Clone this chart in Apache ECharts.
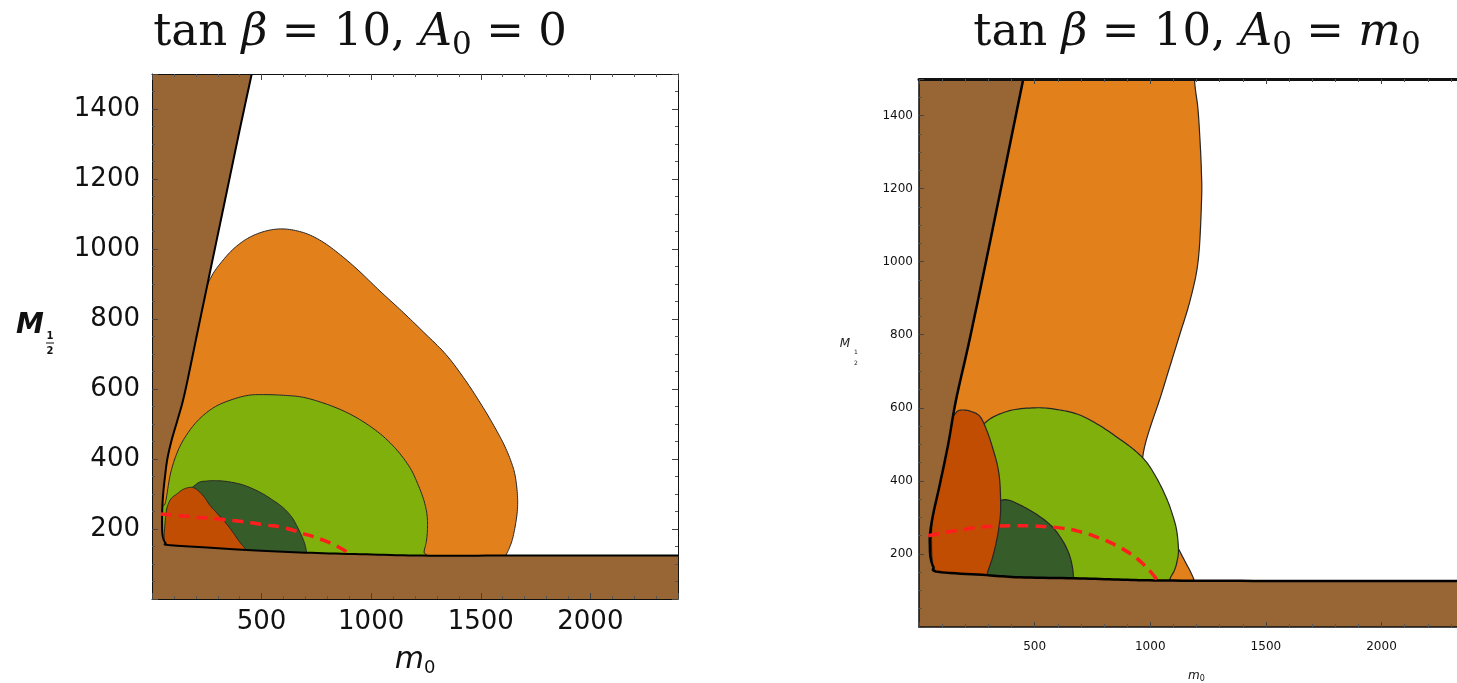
<!DOCTYPE html>
<html>
<head>
<meta charset="utf-8">
<title>tan beta = 10 planes</title>
<script src="https://cdn.jsdelivr.net/npm/echarts@6/dist/echarts.min.js"></script>
<style>
  html, body { margin: 0; padding: 0; background: #fff; }
  #chart { width: 1457px; height: 683px; }
</style>
</head>
<body>
<div id="chart"></div>
<script>
// ---- data (m0, M1/2) ----
const xTicks = [500, 1000, 1500, 2000];
const yTicks = [200, 400, 600, 800, 1000, 1200, 1400];

// left panel: tan beta = 10, A0 = 0
const leftBrown = [[0, 0], [0, 1500], [455, 1500], [400, 1340], [340, 1160], [277, 971], [210, 770], [150, 590],
  [118, 515], [91, 457], [70, 400], [58, 343], [51, 300], [47, 260], [46, 220], [47, 190], [52, 172], [62, 160],
  [75, 154], [250, 147], [432, 140], [675, 133], [950, 128], [1236, 124], [1600, 124], [2000, 124], [2400, 124],
  [2400, 0]];
const leftOrange = [[30, 100], [30, 500], [120, 600], [235, 860], [270, 920], [320, 965], [380, 1005], [450, 1035],
  [530, 1053], [610, 1057], [700, 1045], [780, 1020], [860, 983], [940, 940], [1040, 880], [1139, 823], [1240, 762],
  [1342, 698], [1430, 625], [1505, 553], [1560, 495], [1607, 440], [1640, 390], [1658, 349], [1668, 290],
  [1665, 240], [1648, 179], [1630, 145], [1607, 115], [1600, 100], [800, 95]];
const leftGreen = [[40, 100], [40, 250], [61, 275], [85, 360], [122, 429], [170, 480], [224, 519], [290, 550],
  [366, 570], [440, 582], [508, 584], [600, 582], [692, 576], [800, 556], [895, 531], [980, 500], [1058, 463],
  [1125, 420], [1180, 372], [1215, 325], [1241, 281], [1255, 240], [1257, 202], [1252, 165], [1241, 134],
  [1238, 100], [600, 95]];
const leftDark = [[90, 100], [90, 200], [130, 280], [204, 329], [250, 337], [295, 338], [350, 335], [420, 325],
  [493, 305], [550, 283], [600, 260], [640, 232], [668, 200], [690, 170], [702, 145], [706, 120], [706, 100],
  [400, 95]];
const leftRed = [[59, 110], [55, 171], [60, 220], [67, 257], [85, 285], [113, 300], [145, 314], [181, 319],
  [210, 310], [240, 290], [265, 267], [300, 243], [341, 214], [372, 188], [401, 162], [420, 148], [432, 135],
  [436, 110], [250, 105]];
const leftDash = [[40, 243], [130, 238], [219, 233], [295, 229], [371, 224], [450, 218], [523, 211], [584, 206],
  [640, 197], [690, 187], [736, 178], [790, 166], [827, 156], [870, 142], [911, 124]];

// right panel: tan beta = 10, A0 = m0
const rightBrown = [[0, 0], [0, 1500], [451, 1500], [400, 1342], [300, 1032], [220, 790], [160, 621], [127, 503],
  [91, 393], [62, 311], [48, 256], [47, 220], [50, 190], [62, 165], [83, 151], [293, 142], [437, 136], [696, 133],
  [900, 129], [1100, 127], [1600, 126], [2000, 126], [2400, 126], [2400, 0]];
const rightOrange = [[20, 100], [20, 1650], [1180, 1650], [1191, 1500], [1206, 1420], [1215, 1334], [1221, 1250],
  [1222, 1171], [1208, 1007], [1174, 898], [1122, 789], [1053, 647], [967, 462], [1020, 370], [1070, 290],
  [1110, 230], [1150, 180], [1175, 150], [1191, 125], [1195, 100], [600, 95]];
const rightGreen = [[170, 100], [160, 250], [170, 380], [200, 470], [278, 554], [380, 590], [502, 600], [600, 595],
  [692, 581], [780, 552], [864, 516], [930, 485], [984, 451], [1030, 405], [1070, 353], [1095, 310], [1114, 265],
  [1122, 211], [1116, 180], [1105, 156], [1084, 129], [1080, 100], [600, 95]];
const rightDark = [[250, 100], [250, 250], [280, 320], [365, 348], [437, 334], [523, 302], [575, 275], [610, 247],
  [635, 220], [653, 192], [663, 165], [667, 142], [667, 100], [450, 95]];
const rightRed = [[90, 120], [83, 140], [62, 165], [55, 200], [55, 275], [65, 340], [77, 393], [92, 440],
  [105, 485], [125, 530], [141, 567], [165, 590], [192, 594], [225, 590], [264, 576], [295, 535], [321, 485],
  [340, 440], [350, 393], [353, 320], [346, 275], [336, 238], [318, 190], [293, 142], [290, 120], [190, 115]];
const rightDash = [[40, 250], [120, 260], [192, 267], [264, 273], [336, 276], [408, 277], [480, 277], [552, 274],
  [624, 270], [696, 261], [778, 244], [850, 224], [916, 200], [960, 178], [1002, 151], [1025, 133], [1045, 118]];

const chart = echarts.init(document.getElementById('chart'));

const C = {
  brown: '#986534',
  orange: '#e2801c',
  green: '#80b00c',
  dark: '#365c2a',
  red: '#c04d02',
  dash: '#ff1e1e'
};

// Catmull-Rom through the pixel points so the region edges come out round
function spline(pts, closed) {
  const out = [];
  const n = pts.length;
  const count = closed ? n : n - 1;
  const seg = 10;
  for (let i = 0; i < count; i++) {
    const p0 = pts[closed ? (i - 1 + n) % n : Math.max(i - 1, 0)];
    const p1 = pts[i];
    const p2 = pts[(i + 1) % n];
    const p3 = pts[closed ? (i + 2) % n : Math.min(i + 2, n - 1)];
    for (let k = 0; k < seg; k++) {
      const t = k / seg, t2 = t * t, t3 = t2 * t;
      const f = j => 0.5 * (2 * p1[j] + (p2[j] - p0[j]) * t + (2 * p0[j] - 5 * p1[j] + 4 * p2[j] - p3[j]) * t2 +
        (3 * p1[j] - p0[j] - 3 * p2[j] + p3[j]) * t3);
      out.push([f(0), f(1)]);
    }
  }
  if (!closed) out.push(pts[n - 1]);
  return out;
}

function region(pts, fill, gi, z, lw) {
  return {
    type: 'custom', xAxisIndex: gi * 2, yAxisIndex: gi * 2, z: z, clip: true, silent: true,
    data: pts,
    renderItem: function (params, api) {
      if (params.dataIndex !== 0) return null;
      return {
        type: 'polygon',
        shape: { points: spline(pts.map(p => api.coord(p)), true) },
        style: { fill: fill, stroke: '#262626', lineWidth: lw }
      };
    }
  };
}

function brown(pts, gi, lw) {
  // fill without stroke, then the black boundary (frame corners stay sharp)
  const edge = pts.slice(2, pts.length - 1);
  return [{
    type: 'custom', xAxisIndex: gi * 2, yAxisIndex: gi * 2, z: 6, clip: true, silent: true,
    data: pts,
    renderItem: function (params, api) {
      if (params.dataIndex !== 0) return null;
      const e = spline(edge.map(p => api.coord(p)), false);
      const poly = [api.coord(pts[0]), api.coord(pts[1])].concat(e, [api.coord(pts[pts.length - 1])]);
      return { type: 'polygon', shape: { points: poly }, style: { fill: C.brown } };
    }
  }, {
    type: 'custom', xAxisIndex: gi * 2, yAxisIndex: gi * 2, z: 7, clip: true, silent: true,
    data: edge,
    renderItem: function (params, api) {
      if (params.dataIndex !== 0) return null;
      return {
        type: 'polyline', shape: { points: spline(edge.map(p => api.coord(p)), false) },
        style: { stroke: '#000', lineWidth: lw, fill: null }
      };
    }
  }];
}

function dash(pts, gi) {
  return {
    type: 'line', xAxisIndex: gi * 2, yAxisIndex: gi * 2, z: 9, data: pts, smooth: true,
    symbol: 'none', silent: true,
    lineStyle: { color: C.dash, width: 3.5, type: [11, 7] }
  };
}

function xAx(gi, pos, small) {
  return {
    gridIndex: gi, type: 'value', position: pos, min: 0, max: 2400, interval: 500, z: 10,
    axisLine: { show: true, onZero: false, lineStyle: { color: '#111', width: small && pos === 'top' ? 3 : (small ? 1.5 : 1) } },
    axisTick: { show: true, inside: true, length: small ? 5 : 6, lineStyle: { color: '#444' } },
    minorTick: { show: true, splitNumber: 5, length: 3, lineStyle: { color: '#555' } },
    splitLine: { show: false },
    axisLabel: {
      show: pos === 'bottom',
      margin: small ? 14 : 10,
      color: '#111',
      fontFamily: 'DejaVu Sans',
      fontSize: small ? 12 : 26,
      formatter: v => xTicks.indexOf(v) >= 0 ? String(v) : ''
    },
    name: pos === 'bottom' ? '{i|m}{s|0}' : '',
    nameLocation: 'middle',
    nameGap: small ? 42 : 44,
    nameTextStyle: {
      rich: {
        i: { fontFamily: 'DejaVu Sans', fontStyle: 'italic', fontSize: small ? 12 : 30, color: '#111', lineHeight: small ? 14 : 34 },
        s: { fontFamily: 'DejaVu Sans', fontSize: small ? 8 : 18, color: '#111', verticalAlign: 'bottom', lineHeight: small ? 8 : 20 }
      }
    }
  };
}

function yAx(gi, pos, small) {
  return {
    gridIndex: gi, type: 'value', position: pos, min: 0, max: 1500, interval: 200, z: 10,
    axisLine: { show: true, onZero: false, lineStyle: { color: '#111', width: small ? 1.5 : 1 } },
    axisTick: { show: true, inside: true, length: small ? 5 : 6, lineStyle: { color: '#444' } },
    minorTick: { show: true, splitNumber: 4, length: 3, lineStyle: { color: '#555' } },
    splitLine: { show: false },
    axisLabel: {
      show: pos === 'left',
      margin: small ? 6 : 12,
      color: '#111',
      fontFamily: 'DejaVu Sans',
      fontSize: small ? 12 : 26,
      formatter: v => yTicks.indexOf(v) >= 0 ? String(v) : ''
    }
  };
}

const titleRich = {
  n: { fontFamily: 'DejaVu Serif', fontSize: 45, lineHeight: 56, fill: '#111' },
  i: { fontFamily: 'DejaVu Serif', fontStyle: 'italic', fontSize: 45, lineHeight: 56, fill: '#111' },
  s: { fontFamily: 'DejaVu Serif', fontSize: 31, lineHeight: 31, verticalAlign: 'bottom', fill: '#111' }
};

const option = {
  backgroundColor: '#fff',
  animation: false,
  grid: [
    { left: 152, top: 74, width: 526, height: 525, outerBoundsMode: 'none' },
    { left: 919, top: 79, width: 555, height: 548, outerBoundsMode: 'none' }
  ],
  xAxis: [xAx(0, 'bottom', false), xAx(0, 'top', false), xAx(1, 'bottom', true), xAx(1, 'top', true)],
  yAxis: [yAx(0, 'left', false), yAx(0, 'right', false), yAx(1, 'left', true), yAx(1, 'right', true)],
  graphic: [
    {
      type: 'text', x: 360, y: 33, silent: true,
      style: {
        text: '{n|tan }{i|β}{n| = 10, }{i|A}{s|0}{n| = 0}',
        align: 'center', verticalAlign: 'middle', rich: titleRich
      }
    },
    {
      type: 'text', x: 1197, y: 33, silent: true,
      style: {
        text: '{n|tan }{i|β}{n| = 10, }{i|A}{s|0}{n| = }{i|m}{s|0}',
        align: 'center', verticalAlign: 'middle', rich: titleRich
      }
    },
    // M_{1/2} axis names
    { type: 'text', x: 30, y: 326, silent: true,
      style: { text: 'M', font: 'italic bold 28px "DejaVu Sans"', align: 'center', verticalAlign: 'middle', fill: '#111' } },
    { type: 'text', x: 50, y: 336, silent: true,
      style: { text: '1', font: 'bold 10px "DejaVu Sans"', align: 'center', verticalAlign: 'middle', fill: '#111' } },
    { type: 'line', silent: true, shape: { x1: 46, y1: 343, x2: 54, y2: 343 }, style: { stroke: '#111', lineWidth: 1 } },
    { type: 'text', x: 50, y: 351, silent: true,
      style: { text: '2', font: 'bold 10px "DejaVu Sans"', align: 'center', verticalAlign: 'middle', fill: '#111' } },
    { type: 'text', x: 845, y: 344, silent: true,
      style: { text: 'M', font: 'italic 12px "DejaVu Sans"', align: 'center', verticalAlign: 'middle', fill: '#222' } },
    { type: 'text', x: 856, y: 352, silent: true,
      style: { text: '1', font: '6px "DejaVu Sans"', align: 'center', verticalAlign: 'middle', fill: '#222' } },
    { type: 'text', x: 856, y: 363, silent: true,
      style: { text: '2', font: '6px "DejaVu Sans"', align: 'center', verticalAlign: 'middle', fill: '#222' } }
  ],
  series: [
    region(leftOrange, C.orange, 0, 2, 1),
    region(leftGreen, C.green, 0, 3, 1),
    region(leftDark, C.dark, 0, 4, 1),
    region(leftRed, C.red, 0, 5, 1),
    ...brown(leftBrown, 0, 2),
    dash(leftDash, 0),
    region(rightOrange, C.orange, 1, 2, 1.2),
    region(rightGreen, C.green, 1, 3, 1.2),
    region(rightDark, C.dark, 1, 4, 1.2),
    region(rightRed, C.red, 1, 5, 1.2),
    ...brown(rightBrown, 1, 2.5),
    dash(rightDash, 1)
  ]
};

chart.setOption(option);
window.addEventListener('resize', () => chart.resize());
</script>
</body>
</html>
